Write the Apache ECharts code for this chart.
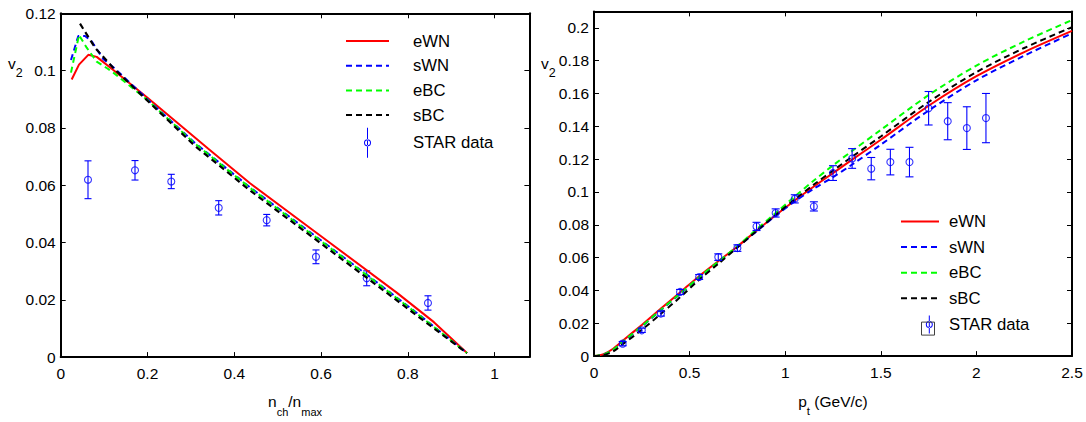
<!DOCTYPE html>
<html><head><meta charset="utf-8">
<script src="https://cdn.jsdelivr.net/npm/echarts@6/dist/echarts.min.js"></script>
<style>html,body{margin:0;padding:0;background:#fff}#c{width:1086px;height:422px}</style>
</head><body><div id="c"></div>
<script>
// ---------------- Left panel: v2 vs n_ch/n_max ----------------
const L_eWN_x = [0.0253, 0.0422, 0.0636, 0.083, 0.1212, 0.2, 0.3401, 0.4362, 0.6, 0.7742, 0.86, 0.9362];
const L_eWN_y = [0.0969, 0.1021, 0.1055, 0.1048, 0.1002, 0.0905, 0.0727, 0.0607, 0.0422, 0.0225, 0.0122, 0.0014];
const L_sWN_x = [0.0237, 0.0406, 0.056, 0.0714, 0.0982, 0.1212, 0.2, 0.3094, 0.4376, 0.55, 0.7051, 0.82, 0.9362];
const L_sWN_y = [0.1037, 0.1121, 0.1121, 0.1102, 0.1040, 0.1012, 0.0900, 0.0747, 0.0591, 0.0464, 0.0288, 0.0155, 0.0014];
const L_eBC_x = [0.0237, 0.0422, 0.0599, 0.0829, 0.106, 0.1212, 0.2, 0.3094, 0.4376, 0.55, 0.7051, 0.82, 0.9362];
const L_eBC_y = [0.0993, 0.1124, 0.1080, 0.1031, 0.1009, 0.0993, 0.0897, 0.0745, 0.0589, 0.0461, 0.0286, 0.0153, 0.0014];
const L_sBC_x = [0.0445, 0.079, 0.1212, 0.2, 0.3094, 0.4376, 0.55, 0.7051, 0.82, 0.9362];
const L_sBC_y = [0.1164, 0.1080, 0.1009, 0.0895, 0.0737, 0.0580, 0.0453, 0.0277, 0.0146, 0.0014];
const L_star_x = [0.0629, 0.1712, 0.2548, 0.3641, 0.4747, 0.5882, 0.7051, 0.8463];
const L_star_y = [0.0619, 0.0652, 0.0613, 0.0521, 0.0478, 0.0350, 0.0275, 0.0189];
const L_star_e = [0.0066, 0.0034, 0.0025, 0.0025, 0.0020, 0.0024, 0.0026, 0.0025];
const L_xTicks = [0, 0.2, 0.4, 0.6, 0.8, 1];
const L_yTicks = [0, 0.02, 0.04, 0.06, 0.08, 0.1, 0.12];

// ---------------- Right panel: v2 vs p_t ----------------
const R_x = [0, 0.05, 0.1, 0.15, 0.25, 0.35, 0.45, 0.55, 0.65, 0.75, 0.85, 0.95, 1.05, 1.15, 1.25, 1.35, 1.5, 1.75, 2.0, 2.25, 2.5];
const R_eWN = [0, 0.0012, 0.0045, 0.0093, 0.0190, 0.0290, 0.0388, 0.0487, 0.0578, 0.0668, 0.0764, 0.0858, 0.0948, 0.1033, 0.1115, 0.1197, 0.1318, 0.1525, 0.1705, 0.1852, 0.1981];
const R_sWN = [0, 0.0009, 0.0037, 0.0085, 0.0180, 0.0280, 0.0378, 0.0478, 0.0572, 0.0664, 0.0760, 0.0855, 0.0942, 0.1020, 0.1090, 0.1167, 0.1288, 0.1496, 0.1680, 0.1830, 0.1966];
const R_eBC = [0, 0.0010, 0.0040, 0.0088, 0.0182, 0.0283, 0.0380, 0.0480, 0.0575, 0.0670, 0.0772, 0.0872, 0.0972, 0.1070, 0.1162, 0.1250, 0.1378, 0.1590, 0.1770, 0.1917, 0.2047];
const R_sBC = [0, 0.0006, 0.0028, 0.0072, 0.0160, 0.0258, 0.0358, 0.0465, 0.0562, 0.0662, 0.0762, 0.0860, 0.0955, 0.1045, 0.1130, 0.1215, 0.1338, 0.1548, 0.1730, 0.1877, 0.2004];
const R_star_x = [0.15, 0.25, 0.35, 0.45, 0.55, 0.65, 0.75, 0.85, 0.95, 1.05, 1.15, 1.25, 1.35, 1.45, 1.55, 1.65, 1.75, 1.85, 1.95, 2.05];
const R_star_y = [0.0076, 0.0157, 0.0259, 0.0391, 0.0482, 0.0603, 0.0658, 0.0790, 0.0872, 0.0958, 0.0912, 0.1115, 0.1204, 0.1142, 0.1182, 0.1182, 0.1510, 0.1431, 0.1389, 0.1450];
const R_star_e = [0.0013, 0.0013, 0.0015, 0.0015, 0.0015, 0.0020, 0.0020, 0.0025, 0.0025, 0.0025, 0.0028, 0.0045, 0.0060, 0.0068, 0.0078, 0.0090, 0.0102, 0.0113, 0.0130, 0.0150];
const R_xTicks = [0, 0.5, 1, 1.5, 2, 2.5];
const R_yTicks = [0, 0.02, 0.04, 0.06, 0.08, 0.1, 0.12, 0.14, 0.16, 0.18, 0.2];

const FONT = '"Liberation Sans", Arial, Helvetica, sans-serif';
const RED = '#ff0000', BLUE = '#0000ff', GREEN = '#00ff00', BLACK = '#000000';

const zip = (xs, ys) => xs.map((x, i) => [x, ys[i]]);
const zip3 = (xs, ys, es) => xs.map((x, i) => [x, ys[i], es[i]]);

const chart = echarts.init(document.getElementById('c'), null, { renderer: 'svg' });

function mainAxis(gridIndex, pos, min, max, interval, ticks, showMax) {
  return {
    type: 'value', gridIndex, position: pos, min, max, interval,
    axisLine: { show: true, onZero: false, lineStyle: { color: '#000', width: 2 } },
    axisTick: { show: true, inside: true, length: 5, lineStyle: { color: '#000', width: 1 } },
    axisLabel: {
      show: true, color: '#000', fontFamily: FONT, fontSize: 15.5, margin: pos === 'bottom' ? 8 : 5,
      showMaxLabel: showMax, showMinLabel: true,
      formatter: v => {
        const r = Math.round(v * 1000) / 1000;
        return ticks.some(t => Math.abs(t - r) < 1e-9) ? String(r) : '';
      }
    },
    splitLine: { show: false }
  };
}
function boxAxis(gridIndex, pos, min, max, interval) {
  return {
    type: 'value', gridIndex, position: pos, min, max, interval,
    axisLine: { show: true, onZero: false, lineStyle: { color: '#000', width: 2 } },
    axisTick: { show: true, inside: true, length: 5, lineStyle: { color: '#000', width: 1 } },
    axisLabel: { show: false },
    splitLine: { show: false }
  };
}

const LXMAX = 1.08, RYMAX = 0.21;

function errRender(cap) {
  return function (params, api) {
    const x = api.value(0), y = api.value(1), e = api.value(2);
    const t = api.coord([x, y + e]), b = api.coord([x, y - e]);
    const st = { stroke: BLUE, lineWidth: 1.1 };
    return {
      type: 'group', children: [
        { type: 'line', shape: { x1: t[0], y1: t[1], x2: b[0], y2: b[1] }, style: st },
        { type: 'line', shape: { x1: t[0] - cap, y1: t[1], x2: t[0] + cap, y2: t[1] }, style: st },
        { type: 'line', shape: { x1: b[0] - cap, y1: b[1], x2: b[0] + cap, y2: b[1] }, style: st }
      ]
    };
  };
}

function lineSeries(name, data, color, type, width, xi, yi, smooth) {
  return {
    type: 'line', name, data, xAxisIndex: xi, yAxisIndex: yi, showSymbol: false, symbol: 'none',
    smooth: smooth || false, clip: true,
    lineStyle: { color, width, type }, itemStyle: { color }, z: 3
  };
}

// legend icons: circle ring + vertical bar
const iconLeft = 'path://M21 0 L22 0 L22 30 L21 30 Z ' +
  'M18 15 A3.5 3.5 0 1 0 25 15 A3.5 3.5 0 1 0 18 15 Z M19 15 A2.5 2.5 0 1 1 24 15 A2.5 2.5 0 1 1 19 15 Z';
const iconRight = 'path://M0 8.99 L0 9.01 L0.01 9.01 Z M37.99 8.99 L38 8.99 L38 9.01 Z ' +
  'M27.8 0 L28.8 0 L28.8 18 L27.8 18 Z ' +
  'M24.8 9 A3.5 3.5 0 1 0 31.8 9 A3.5 3.5 0 1 0 24.8 9 Z M25.8 9 A2.5 2.5 0 1 1 30.8 9 A2.5 2.5 0 1 1 25.8 9 Z';

const legendText = pad => ({ color: '#000', fontFamily: FONT, fontSize: 16.7, padding: [0, 0, 0, pad] });
const hideSym = { opacity: 0 };
const legendData = icon => [
  { name: 'eWN', itemStyle: hideSym }, { name: 'sWN', itemStyle: hideSym },
  { name: 'eBC', itemStyle: hideSym }, { name: 'sBC', itemStyle: hideSym },
  { name: 'STAR data', icon, itemStyle: { color: BLUE, borderWidth: 0, opacity: 1 } }
];

const subRich = (main, sub, subPad) => ({
  a: { fontFamily: FONT, fontSize: main, color: '#000', lineHeight: main },
  b: { fontFamily: FONT, fontSize: sub, color: '#000', lineHeight: sub, padding: [subPad, 0, 0, 0] }
});

const option = {
  animation: false,
  backgroundColor: '#fff',
  grid: [
    { left: 60.7, top: 13.3, width: 468.7, height: 367.4 },
    { left: 594, top: 11.4, width: 478, height: 370.3 }
  ],
  xAxis: [
    Object.assign(mainAxis(0, 'bottom', 0, LXMAX, 0.2, L_xTicks, false), {
      name: '{a|n}{b|ch}{a|/n}{b|max}', nameLocation: 'middle', nameGap: 17,
      nameTextStyle: { rich: subRich(15.5, 11, 20) }
    }),
    boxAxis(0, 'top', 0, LXMAX, 0.2),
    Object.assign(mainAxis(1, 'bottom', 0, 2.5, 0.5, R_xTicks, true), {
      name: '{a|p}{b|t}{a| (GeV/c)}', nameLocation: 'middle', nameGap: 14,
      nameTextStyle: { rich: subRich(15.5, 11.5, 20) }
    }),
    boxAxis(1, 'top', 0, 2.5, 0.5)
  ],
  yAxis: [
    mainAxis(0, 'left', 0, 0.12, 0.02, L_yTicks, true),
    boxAxis(0, 'right', 0, 0.12, 0.02),
    mainAxis(1, 'left', 0, RYMAX, 0.02, R_yTicks, false),
    boxAxis(1, 'right', 0, RYMAX, 0.02)
  ],
  legend: [
    {
      orient: 'vertical', left: 345, top: 29, padding: 0, itemWidth: 43, itemHeight: 30, itemGap: 0.7,
      selectedMode: false, symbolKeepAspect: true, textStyle: legendText(19),
      data: legendData(iconLeft)
    },
    {
      orient: 'vertical', left: 900, top: 213, padding: 0, itemWidth: 38, itemHeight: 18, itemGap: 8.6,
      selectedMode: false, symbolKeepAspect: true, textStyle: legendText(5),
      data: legendData(iconRight)
    }
  ],
  graphic: [
    { type: 'text', left: 8, top: 47, style: { text: '{a|v}{b|2}', rich: subRich(15.5, 12.5, 19) } },
    { type: 'text', left: 541, top: 47, style: { text: '{a|v}{b|2}', rich: subRich(15.5, 12.5, 19) } },
    { type: 'rect', shape: { x: 921.5, y: 322.1, width: 13, height: 13 }, style: { fill: 'none', stroke: '#404040', lineWidth: 1 }, z: 100 }
  ],
  series: [
    // left panel
    { type: 'custom', name: 'STAR data (err L)', xAxisIndex: 0, yAxisIndex: 0, data: zip3(L_star_x, L_star_y, L_star_e), renderItem: errRender(3.5), z: 2 },
    { type: 'scatter', name: 'STAR data', xAxisIndex: 0, yAxisIndex: 0, data: zip(L_star_x, L_star_y), symbol: 'circle', symbolSize: 7,
      itemStyle: { color: 'rgba(0,0,0,0)', borderColor: BLUE, borderWidth: 1.1 }, z: 2 },
    lineSeries('eWN', zip(L_eWN_x, L_eWN_y), RED, 'solid', 2, 0, 0),
    lineSeries('sWN', zip(L_sWN_x, L_sWN_y), BLUE, [6, 4], 2, 0, 0),
    lineSeries('eBC', zip(L_eBC_x, L_eBC_y), GREEN, [6, 4], 2, 0, 0),
    lineSeries('sBC', zip(L_sBC_x, L_sBC_y), BLACK, [6, 4], 2.2, 0, 0),
    // right panel
    lineSeries('eWN', zip(R_x, R_eWN), RED, 'solid', 2, 2, 2, 0.3),
    lineSeries('sWN', zip(R_x, R_sWN), BLUE, [6, 4], 2, 2, 2, 0.3),
    lineSeries('eBC', zip(R_x, R_eBC), GREEN, [6, 4], 2, 2, 2, 0.3),
    lineSeries('sBC', zip(R_x, R_sBC), BLACK, [6, 4], 2, 2, 2, 0.3),
    { type: 'custom', name: 'STAR data (err R)', xAxisIndex: 2, yAxisIndex: 2, data: zip3(R_star_x, R_star_y, R_star_e), renderItem: errRender(4), z: 4 },
    { type: 'scatter', name: 'STAR data', xAxisIndex: 2, yAxisIndex: 2, data: zip(R_star_x, R_star_y), symbol: 'circle', symbolSize: 7,
      itemStyle: { color: 'rgba(0,0,0,0)', borderColor: BLUE, borderWidth: 1.1 }, z: 4 }
  ]
};
chart.setOption(option);
</script>
</body></html>
